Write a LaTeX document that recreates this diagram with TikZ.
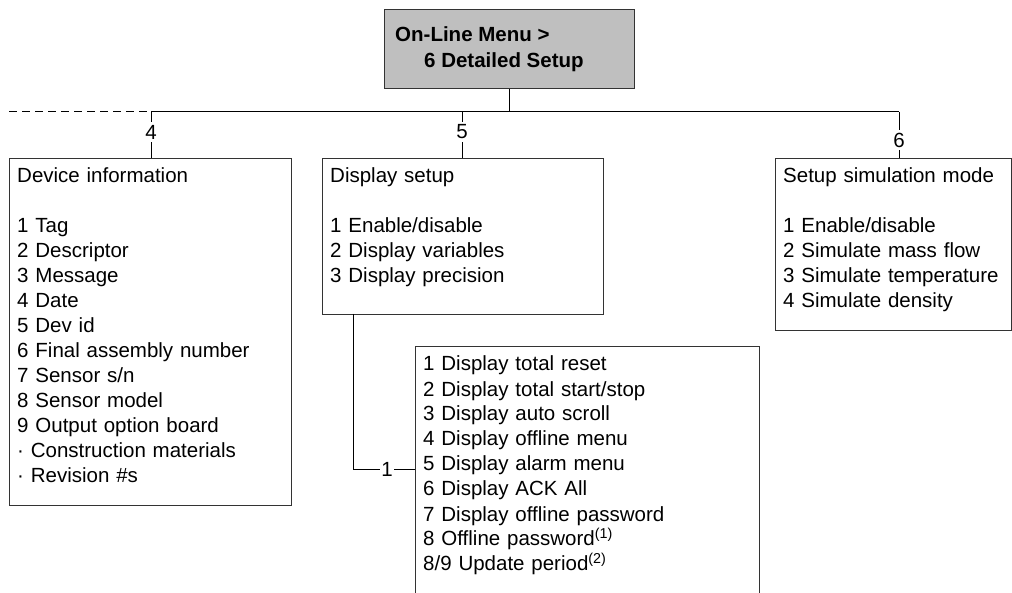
\documentclass[tikz,border=0pt]{standalone}
\usepackage{fontspec}
\setmainfont{Liberation Sans}
\begin{document}
\begin{tikzpicture}[x=1pt,y=-1pt,
  every node/.style={font=\fontsize{20.5}{25}\selectfont},
  frame/.style={draw=black!80, line width=1.2pt, fill=white, inner sep=0pt, anchor=north west},
  menubox/.style={frame, fill=black!25},
  numlabel/.style={inner xsep=1.5pt, inner ysep=3pt, anchor=center},
  listtext/.style={anchor=base west, inner sep=0pt, align=left},
  titletext/.style={anchor=base west, inner sep=0pt, font=\bfseries\fontsize{20.5}{25}\selectfont},
  link/.style={draw=black, line width=1pt},
  dashlink/.style={link, dash pattern=on 8pt off 5pt}]

\useasboundingbox (0,0) rectangle (1012,593);
\begin{scope}
\clip (0,0) rectangle (1012,593);

% top-level menu entry
\node[menubox, minimum width=250pt, minimum height=79pt] (menu) at (384,9) {};
\node[titletext] (menutitle) at (395,42) {On-Line Menu >};
\node[titletext] (menusub) at (424,68) {6 Detailed Setup};

% sub-menu boxes
\node[frame, minimum width=282pt, minimum height=347pt] (devbox) at (9,158) {};
\node[listtext, text width=270pt] (devtext) at (17,183)
  {Device information\\[25pt]1 Tag\\2 Descriptor\\3 Message\\4 Date\\5 Dev id\\6 Final assembly number\\7 Sensor s/n\\8 Sensor model\\9 Output option board\\\textperiodcentered{} Construction materials\\\textperiodcentered{} Revision \#s};

\node[frame, minimum width=281pt, minimum height=156pt] (dispbox) at (322,158) {};
\node[listtext, text width=270pt] (disptext) at (330,183)
  {Display setup\\[25pt]1 Enable/disable\\2 Display variables\\3 Display precision};

\node[frame, minimum width=236pt, minimum height=172pt] (simbox) at (775,158) {};
\node[listtext, text width=225pt] (simtext) at (783,183)
  {Setup simulation mode\\[25pt]1 Enable/disable\\2 Simulate mass flow\\3 Simulate temperature\\4 Simulate density};

\node[frame, minimum width=344pt, minimum height=280pt] (subbox) at (415,346) {};
\node[listtext, text width=330pt] (subtext) at (423,371)
  {1 Display total reset\\2 Display total start/stop\\3 Display auto scroll\\4 Display offline menu\\5 Display alarm menu\\6 Display ACK All\\7 Display offline password\\8 Offline password\textsuperscript{(1)}\\8/9 Update period\textsuperscript{(2)}};

% branch points on the distribution line
\coordinate (leftend) at (9,112);
\coordinate (branch4) at (151,112);
\coordinate (branch5) at (462,112);
\coordinate (branch6) at (899,112);
\coordinate (droptop) at (353,314);

% branch labels
\node[numlabel] (n4) at (151,132) {4};
\node[numlabel] (n5) at (462,132) {5};
\node[numlabel] (n6) at (899,140) {6};
\node[numlabel] (n1) at (387,469) {1};

% connectors
\draw[link] (menu.south) -- (menu.south |- branch6);
\draw[link] (branch4) -- (branch6);
\draw[dashlink] (leftend) -- (branch4);
\draw[link] (branch4) -- (n4.north);
\draw[link] (n4.south) -- (devbox.north -| n4.south);
\draw[link] (branch5) -- (n5.north);
\draw[link] (n5.south) -- (dispbox.north -| n5.south);
\draw[link] (branch6) -- (n6.north);
\draw[link] (n6.south) -- (simbox.north -| n6.south);
\draw[link] (droptop) |- (n1.west);
\draw[link] (n1.east) -- (subbox.west |- n1.east);
\end{scope}
\end{tikzpicture}
\end{document}
